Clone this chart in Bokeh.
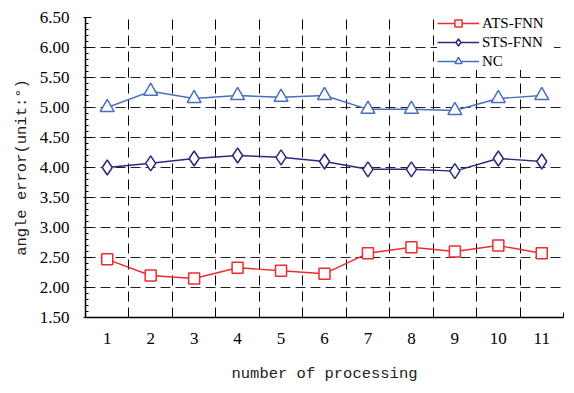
from bokeh.plotting import figure
from bokeh.models import FixedTicker, Range1d, Legend, LegendItem, Grid, NumeralTickFormatter
from bokeh.embed import file_html
from bokeh.resources import INLINE

# ---- data ----
runs = [1, 2, 3, 4, 5, 6, 7, 8, 9, 10, 11]
ats_fnn = [2.47, 2.20, 2.15, 2.33, 2.28, 2.23, 2.57, 2.67, 2.60, 2.70, 2.57]
sts_fnn = [4.00, 4.07, 4.15, 4.20, 4.17, 4.10, 3.97, 3.97, 3.94, 4.15, 4.10]
nc = [5.00, 5.27, 5.15, 5.20, 5.17, 5.20, 4.97, 4.97, 4.95, 5.15, 5.20]
y_tick_values = [1.5, 2.0, 2.5, 3.0, 3.5, 4.0, 4.5, 5.0, 5.5, 6.0, 6.5]
series_names = ["ATS-FNN", "STS-FNN", "NC"]

SERIF = "Liberation Serif"
MONO = "Liberation Mono"

p = figure(width=566, height=385, output_backend="svg", toolbar_location=None,
           x_range=Range1d(0.5, 11.5), y_range=Range1d(1.5, 6.5),
           min_border_left=85, min_border_top=17, min_border_right=3, min_border_bottom=65)
p.outline_line_color = None
p.background_fill_color = "white"
p.border_fill_color = "white"

# boundaries between categories
bounds = [r + 0.5 for r in [0] + runs]
minor_y = [round(1.5 + 0.1 * i, 2) for i in range(51)]

# x axis
p.xaxis.ticker = FixedTicker(ticks=runs, minor_ticks=bounds)
p.xaxis.major_tick_in = 0
p.xaxis.major_tick_out = 0
p.xaxis.minor_tick_in = 5
p.xaxis.minor_tick_out = 0
p.xaxis.minor_tick_line_color = "black"
p.xaxis.axis_line_color = "black"
p.xaxis.axis_line_width = 1.5
p.xaxis.major_label_text_font = SERIF
p.xaxis.major_label_text_font_size = "17px"
p.xaxis.major_label_text_color = "black"
p.xaxis.major_label_standoff = 15
p.xaxis.axis_label = "number of processing"
p.xaxis.axis_label_text_font = MONO
p.xaxis.axis_label_text_font_size = "15.5px"
p.xaxis.axis_label_text_font_style = "normal"
p.xaxis.axis_label_text_color = "#222222"
p.xaxis.axis_label_standoff = 18

# y axis
p.yaxis.ticker = FixedTicker(ticks=y_tick_values, minor_ticks=minor_y)
p.yaxis.formatter = NumeralTickFormatter(format="0.00")
p.yaxis.major_tick_in = 6
p.yaxis.major_tick_out = 2
p.yaxis.minor_tick_in = 3
p.yaxis.minor_tick_out = 0
p.yaxis.major_tick_line_color = "black"
p.yaxis.minor_tick_line_color = "black"
p.yaxis.axis_line_color = "black"
p.yaxis.axis_line_width = 1.5
p.yaxis.major_label_text_font = SERIF
p.yaxis.major_label_text_font_size = "17px"
p.yaxis.major_label_text_color = "black"
p.yaxis.major_label_standoff = 14
p.yaxis.axis_label = "angle error(unit:°)"
p.yaxis.axis_label_text_font = MONO
p.yaxis.axis_label_text_font_size = "15.5px"
p.yaxis.axis_label_text_font_style = "normal"
p.yaxis.axis_label_text_color = "#222222"
p.yaxis.axis_label_standoff = 6

# grids
p.xgrid.ticker = FixedTicker(ticks=bounds[1:-1])
p.xgrid.grid_line_color = "black"
p.xgrid.grid_line_dash = "10 6"
p.xgrid.grid_line_width = 1
p.ygrid.ticker = FixedTicker(ticks=y_tick_values[1:-1])
p.ygrid.grid_line_color = "#222222"
p.ygrid.grid_line_dash = "10 5"
p.ygrid.grid_line_width = 1
top_grid = Grid(dimension=1, ticker=FixedTicker(ticks=y_tick_values[-1:]),
                grid_line_color="#c8c8c8", grid_line_dash="10 5", grid_line_width=1)
p.add_layout(top_grid)

# series
red = "#ef2b2d"
navy = "#2b2a7c"
blue = "#4a6fbf"

l1 = p.line(runs, ats_fnn, line_color=red, line_width=1.4)
m1 = p.scatter(runs, ats_fnn, marker="square", size=11, line_color=red, line_width=1.5, fill_color="white")
l2 = p.line(runs, sts_fnn, line_color=navy, line_width=1.4)
m2 = p.scatter(runs, sts_fnn, marker="diamond", size=15, line_color=navy, line_width=1.5, fill_color="white")
l3 = p.line(runs, nc, line_color=blue, line_width=1.4)
m3 = p.scatter(runs, nc, marker="triangle", size=14, line_color=blue, line_width=1.5, fill_color="white")

legend = Legend(items=[LegendItem(label=series_names[0], renderers=[l1, m1]),
                       LegendItem(label=series_names[1], renderers=[l2, m2]),
                       LegendItem(label=series_names[2], renderers=[l3, m3])],
                location=(352, 247), padding=5, margin=0, spacing=1,
                glyph_width=42, glyph_height=18, label_height=18, label_standoff=3,
                label_width=72,
                label_text_font=SERIF, label_text_font_size="15px", label_text_color="black",
                border_line_color=None, background_fill_color="white", background_fill_alpha=1.0)
p.add_layout(legend, "center")

open("out.html", "w").write(file_html(p, INLINE))
